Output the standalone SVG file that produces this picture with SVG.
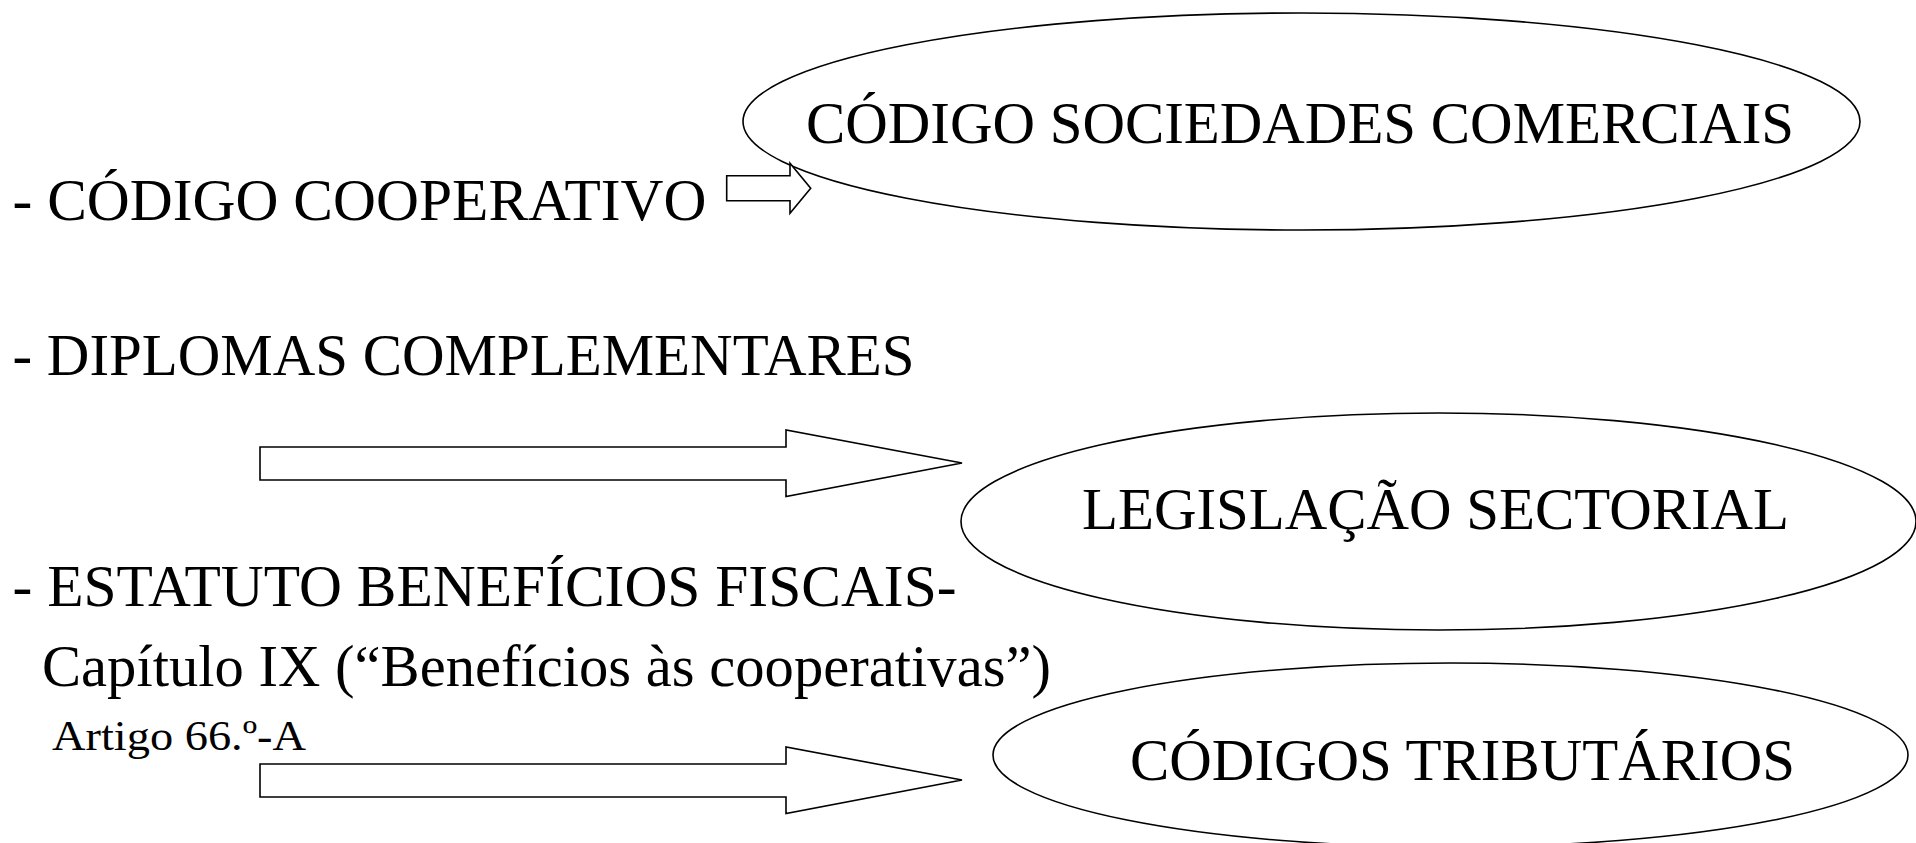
<svg xmlns="http://www.w3.org/2000/svg" width="1916" height="843" viewBox="0 0 1916 843">
<style>
.bg{fill:#ffffff}
.node ellipse{fill:#ffffff;stroke:#000000;stroke-width:1.6}
.conn polygon{fill:#ffffff;stroke:#000000;stroke-width:1.6;stroke-linejoin:miter}
text{font-family:"Liberation Serif","Times New Roman",serif;fill:#000000}
.big{font-size:59px}
.left{font-size:59px}
.small{font-size:43px}
</style>
<rect class="bg" x="0" y="0" width="1916" height="843"/>
<g id="node-sociedades" class="node">
<ellipse cx="1301.5" cy="121.5" rx="558.5" ry="108.5"/>
<text class="big" x="806" y="143" textLength="988" lengthAdjust="spacingAndGlyphs">CÓDIGO SOCIEDADES COMERCIAIS</text>
</g>
<g id="node-sectorial" class="node">
<ellipse cx="1438.5" cy="521.5" rx="477.5" ry="108.5"/>
<text class="big" x="1082" y="529" textLength="707" lengthAdjust="spacingAndGlyphs">LEGISLAÇÃO SECTORIAL</text>
</g>
<g id="node-tributarios" class="node">
<ellipse cx="1450.5" cy="755" rx="457.5" ry="92"/>
<text class="big" x="1130" y="780" textLength="665" lengthAdjust="spacingAndGlyphs">CÓDIGOS TRIBUTÁRIOS</text>
</g>
<g id="node-cooperativo">
<text class="left" x="12.5" y="220" textLength="694" lengthAdjust="spacingAndGlyphs">- CÓDIGO COOPERATIVO</text>
</g>
<g id="node-diplomas">
<text class="left" x="12.5" y="375" textLength="902" lengthAdjust="spacingAndGlyphs">- DIPLOMAS COMPLEMENTARES</text>
</g>
<g id="node-estatuto">
<text class="left" x="12.5" y="606" textLength="944" lengthAdjust="spacingAndGlyphs">- ESTATUTO BENEFÍCIOS FISCAIS-</text>
<text class="left" x="42" y="686" textLength="1009" lengthAdjust="spacingAndGlyphs">Capítulo IX (“Benefícios às cooperativas”)</text>
<text class="small" x="52" y="750" textLength="254" lengthAdjust="spacingAndGlyphs">Artigo 66.º-A</text>
</g>
<g id="connectors" class="conn">
<polygon points="726.7,175.7 790,175.7 790,163.3 810.7,188.3 790,213.3 790,200.7 726.7,200.7"/>
<polygon points="260,447 786,447 786,430 962,463 786,496.5 786,480 260,480"/>
<polygon points="260,764 786,764 786,747 962,780 786,813.5 786,797 260,797"/>
</g>
</svg>
